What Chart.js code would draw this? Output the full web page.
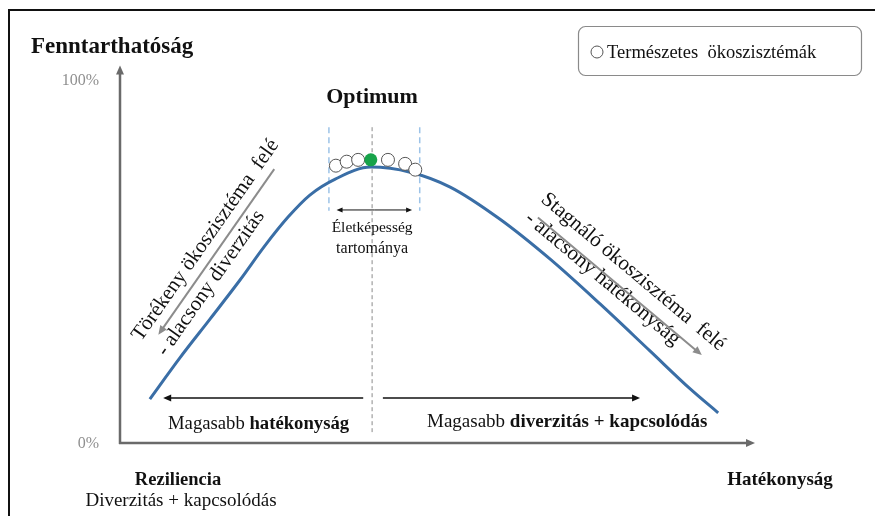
<!DOCTYPE html>
<html lang="hu">
<head>
<meta charset="utf-8">
<title>Fenntarthatóság – hatékonyság és reziliencia</title>
<script src="https://cdn.jsdelivr.net/npm/chart.js@4"></script>
<style>
  html, body { margin: 0; padding: 0; background: #fff; }
  #wrap { width: 875px; height: 516px; }
</style>
</head>
<body>
<div id="wrap"><canvas id="chart" width="875" height="516"></canvas></div>
<script>
// x: hatékonyság (0-100), y: fenntarthatóság (0-100%)
var curveX = [4.7, 9.4, 14.2, 18.9, 22.8, 26.5, 29.9, 33.9, 39.5, 45.7, 52.0, 59.8, 67.7, 75.6, 83.5, 89.8, 94.2];
var curveY = [12.1, 23.4, 34.2, 44.9, 54.3, 62.3, 68.3, 72.7, 76.0, 74.6, 70.5, 61.7, 50.7, 38.3, 25.3, 14.9, 8.3];

// természetes ökoszisztémák a csúcs körül
var circleX = [34.0, 35.7, 37.5, 42.2, 44.9, 46.5];
var circleY = [76.4, 77.5, 78.0, 78.0, 76.9, 75.3];

var optimumX = [39.5];
var optimumY = [78.0];

var yTickValues = [0, 100];
var yTickLabels = ['0%', '100%'];

// életképesség tartománya (x határok) és az optimum vonala
var rangeX = [32.9, 47.2];
var optimumLineX = 39.7;

var SERIF = '"Liberation Serif", "DejaVu Serif", serif';

function toPoints(xs, ys) {
  var out = [];
  for (var i = 0; i < xs.length; i++) out.push({ x: xs[i], y: ys[i] });
  return out;
}

function arrowHead(ctx, x1, y1, x2, y2, len, half) {
  var a = Math.atan2(y2 - y1, x2 - x1);
  ctx.beginPath();
  ctx.moveTo(x2, y2);
  ctx.lineTo(x2 - len * Math.cos(a) + half * Math.sin(a), y2 - len * Math.sin(a) - half * Math.cos(a));
  ctx.lineTo(x2 - len * Math.cos(a) - half * Math.sin(a), y2 - len * Math.sin(a) + half * Math.cos(a));
  ctx.closePath();
  ctx.fill();
}

function arrow(ctx, x1, y1, x2, y2, color, width, len, half) {
  ctx.save();
  ctx.strokeStyle = color;
  ctx.fillStyle = color;
  ctx.lineWidth = width;
  var a = Math.atan2(y2 - y1, x2 - x1);
  ctx.beginPath();
  ctx.moveTo(x1, y1);
  ctx.lineTo(x2 - (len - 1) * Math.cos(a), y2 - (len - 1) * Math.sin(a));
  ctx.stroke();
  arrowHead(ctx, x1, y1, x2, y2, len, half);
  ctx.restore();
}

function text(ctx, str, x, y, font, color, align) {
  ctx.font = font;
  ctx.fillStyle = color || '#111';
  ctx.textAlign = align || 'left';
  ctx.textBaseline = 'alphabetic';
  ctx.fillText(str, x, y);
}

// normál + félkövér rész egy sorban
function mixedText(ctx, parts, x, y, size) {
  var cx = x;
  ctx.textAlign = 'left';
  ctx.textBaseline = 'alphabetic';
  ctx.fillStyle = '#111';
  parts.forEach(function (p) {
    ctx.font = (p.bold ? 'bold ' : '') + size + 'px ' + SERIF;
    ctx.fillText(p.t, cx, y);
    cx += ctx.measureText(p.t).width;
  });
}

var decorations = {
  id: 'decorations',
  beforeDatasetsDraw: function (chart) {
    var ctx = chart.ctx;
    var xs = chart.scales.x, ys = chart.scales.y;
    var x0 = xs.getPixelForValue(0), y0 = ys.getPixelForValue(0);

    ctx.save();
    // külső keret
    ctx.strokeStyle = '#111';
    ctx.lineWidth = 2;
    ctx.beginPath();
    ctx.moveTo(9, 516);
    ctx.lineTo(9, 10);
    ctx.lineTo(875, 10);
    ctx.stroke();

    // tengelyek nyíllal
    arrow(ctx, x0, y0 + 1, x0, ys.getPixelForValue(104), '#6a6a6a', 2.5, 9, 4);
    arrow(ctx, x0 - 1, y0, xs.getPixelForValue(100), y0, '#6a6a6a', 2.5, 9, 4);

    // y tengely feliratok
    yTickValues.forEach(function (v, i) {
      text(ctx, yTickLabels[i], x0 - 21, ys.getPixelForValue(v) + 5, '16px ' + SERIF, '#8f8f8f', 'right');
    });

    // optimum szaggatott vonalai
    ctx.setLineDash([4, 3]);
    ctx.lineWidth = 1;
    ctx.strokeStyle = '#8a8a8a';
    var ox = xs.getPixelForValue(optimumLineX);
    ctx.beginPath();
    ctx.moveTo(ox, ys.getPixelForValue(87));
    ctx.lineTo(ox, ys.getPixelForValue(3));
    ctx.stroke();

    ctx.setLineDash([6, 4]);
    ctx.lineWidth = 1.5;
    ctx.strokeStyle = '#9cc3e8';
    rangeX.forEach(function (rx) {
      var px = xs.getPixelForValue(rx);
      ctx.beginPath();
      ctx.moveTo(px, ys.getPixelForValue(87));
      ctx.lineTo(px, ys.getPixelForValue(64));
      ctx.stroke();
    });
    ctx.setLineDash([]);

    // életképesség tartománya – kétirányú nyíl
    var ay = ys.getPixelForValue(64.2);
    var ax1 = xs.getPixelForValue(rangeX[0] + 1.2), ax2 = xs.getPixelForValue(rangeX[1] - 1.2);
    arrow(ctx, (ax1 + ax2) / 2, ay, ax1, ay, '#111', 1, 6, 2.5);
    arrow(ctx, (ax1 + ax2) / 2, ay, ax2, ay, '#111', 1, 6, 2.5);
    text(ctx, 'Életképesség', ox, 232, '15.5px ' + SERIF, '#111', 'center');
    text(ctx, 'tartománya', ox, 253, '16px ' + SERIF, '#111', 'center');

    text(ctx, 'Optimum', ox, 103, 'bold 22px ' + SERIF, '#111', 'center');
    text(ctx, 'Fenntarthatóság', 31, 53, 'bold 23px ' + SERIF, '#111', 'left');

    // ferde feliratok bal oldalon
    ctx.save();
    ctx.translate(141, 342);
    ctx.rotate(-55 * Math.PI / 180);
    text(ctx, 'Törékeny ökoszisztéma  felé', 0, 0, '21px ' + SERIF, '#111', 'left');
    text(ctx, '- alacsony diverzitás', 2, 29, '21px ' + SERIF, '#111', 'left');
    arrow(ctx, 218, 10, 16, 10, '#8c8c8c', 2, 9, 4);
    ctx.restore();

    // ferde feliratok jobb oldalon
    ctx.save();
    ctx.translate(540, 201);
    ctx.rotate(40 * Math.PI / 180);
    text(ctx, 'Stagnáló ökoszisztéma  felé', 0, 0, '21px ' + SERIF, '#111', 'left');
    text(ctx, '- alacsony hatékonyság', 0, 25, '21px ' + SERIF, '#111', 'left');
    arrow(ctx, 9, 14, 223, 14, '#8c8c8c', 2, 9, 4);
    ctx.restore();

    // alsó nyilak
    var by = 398;
    arrow(ctx, xs.getPixelForValue(38.3), by, xs.getPixelForValue(6.8), by, '#111', 1.6, 8, 3.5);
    arrow(ctx, xs.getPixelForValue(41.4), by, xs.getPixelForValue(81.9), by, '#111', 1.6, 8, 3.5);
    mixedText(ctx, [{ t: 'Magasabb ' }, { t: 'hatékonyság', bold: true }], 168, 429, 18.7);
    mixedText(ctx, [{ t: 'Magasabb ' }, { t: 'diverzitás + kapcsolódás', bold: true }], 427, 427, 19);

    // tengelyvégek feliratai
    text(ctx, 'Reziliencia', 178, 485, 'bold 18.5px ' + SERIF, '#111', 'center');
    text(ctx, 'Diverzitás + kapcsolódás', 181, 506, '19px ' + SERIF, '#111', 'center');
    text(ctx, 'Hatékonyság', 780, 485, 'bold 19px ' + SERIF, '#111', 'center');

    // jelmagyarázat doboz
    ctx.strokeStyle = '#8a8a8a';
    ctx.lineWidth = 1.2;
    ctx.beginPath();
    ctx.roundRect(578.5, 26.5, 283, 49, 7);
    ctx.stroke();
    ctx.beginPath();
    ctx.arc(597, 52, 6, 0, Math.PI * 2);
    ctx.fillStyle = '#fff';
    ctx.fill();
    ctx.strokeStyle = '#555';
    ctx.lineWidth = 1;
    ctx.stroke();
    text(ctx, 'Természetes  ökoszisztémák', 607, 58, '18.5px ' + SERIF, '#111', 'left');

    ctx.restore();
  }
};

new Chart(document.getElementById('chart'), {
  type: 'scatter',
  data: {
    datasets: [
      {
        type: 'line',
        label: 'Fenntarthatóság',
        data: toPoints(curveX, curveY),
        borderColor: '#3a6ea6',
        borderWidth: 3,
        pointRadius: 0,
        cubicInterpolationMode: 'monotone',
        fill: false,
        clip: false,
        order: 3
      },
      {
        label: 'Természetes ökoszisztémák',
        data: toPoints(circleX, circleY),
        pointRadius: 6.5,
        pointBackgroundColor: '#fff',
        pointBorderColor: '#555',
        pointBorderWidth: 1,
        clip: false,
        order: 2
      },
      {
        label: 'Optimum',
        data: toPoints(optimumX, optimumY),
        pointRadius: 6.5,
        pointBackgroundColor: '#17a34a',
        pointBorderColor: '#17a34a',
        pointBorderWidth: 0,
        clip: false,
        order: 1
      }
    ]
  },
  options: {
    responsive: false,
    animation: false,
    devicePixelRatio: 1,
    layout: { padding: { left: 120, right: 120, top: 80, bottom: 73 } },
    scales: {
      x: { type: 'linear', min: 0, max: 100, display: false },
      y: { type: 'linear', min: 0, max: 100, display: false }
    },
    plugins: {
      legend: { display: false },
      title: { display: false },
      tooltip: { enabled: false }
    }
  },
  plugins: [decorations]
});
</script>
</body>
</html>
